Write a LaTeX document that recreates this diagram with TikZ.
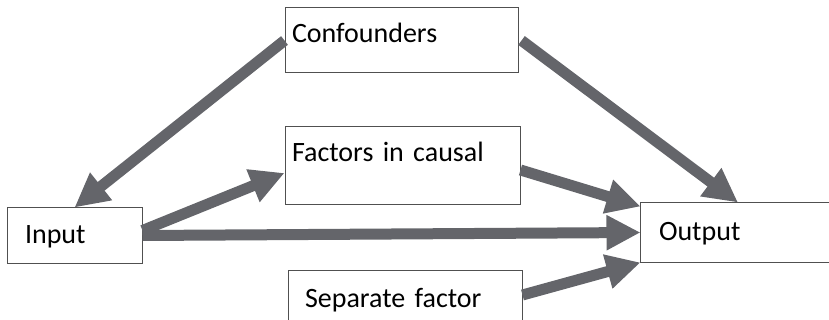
\documentclass[tikz,border=0pt]{standalone}
\usepackage{fontspec}
\setmainfont{Carlito}
\usepackage{xcolor}
\definecolor{arrowgray}{RGB}{100, 101, 106}
\definecolor{boxgray}{RGB}{80, 80, 80}
\usetikzlibrary{arrows.meta, positioning}

\begin{document}
\begin{tikzpicture}[
    x=1pt, y=-1pt,
    box/.style={rectangle, draw=boxgray, line width=1pt, align=left, inner ysep=0pt, text height=20pt, font=\fontsize{28}{32}\selectfont},
    openbox/.style={box, draw=none},
    edge/.style={draw=boxgray, line width=1pt},
    flow/.style={arrowgray, line width=11pt, -{Triangle[length=34pt, width=33pt]}}
]
    \useasboundingbox (0,0) rectangle (829,320);

    \node[box, minimum width=233pt, minimum height=65pt, inner xsep=7pt, text width=219pt, text depth=15pt] (conf) at (401.5, 40.5) {Confounders};
    \node[box, minimum width=235pt, minimum height=78pt, inner xsep=7pt, text width=221pt, text depth=28pt] (factors) at (402.5, 166) {Factors in causal};
    \node[box, minimum width=135pt, minimum height=55pt, inner xsep=18pt, text width=99pt] (input) at (74.5, 235.5) {Input};
    \node[openbox, minimum width=214pt, minimum height=59pt, inner xsep=18pt, text width=178pt] (output) at (748, 232.5) {Output};
    \node[openbox, minimum width=233pt, minimum height=64pt, inner xsep=16pt, text width=201pt, text depth=12pt] (separate) at (405.5, 303) {Separate factor};

    \draw[edge] (output.north east) -- (output.north west) -- (output.south west) -- (output.south east);
    \draw[edge] (separate.south west) -- (separate.north west) -- (separate.north east) -- (separate.south east);

    \draw[flow] (conf.west) -- (input.north);
    \draw[flow] ([yshift=5pt]input.east) -- ([yshift=-7pt]factors.west);
    \draw[flow] (input.east) -- (output.west);
    \draw[flow] ([xshift=3pt]conf.east) -- ([xshift=-10pt]output.north);
    \draw[flow] ([yshift=-4pt]factors.east) -- ([yshift=-4pt]output.north west);
    \draw[flow] ([yshift=8pt]separate.east) -- (output.south west);
\end{tikzpicture}
\end{document}
